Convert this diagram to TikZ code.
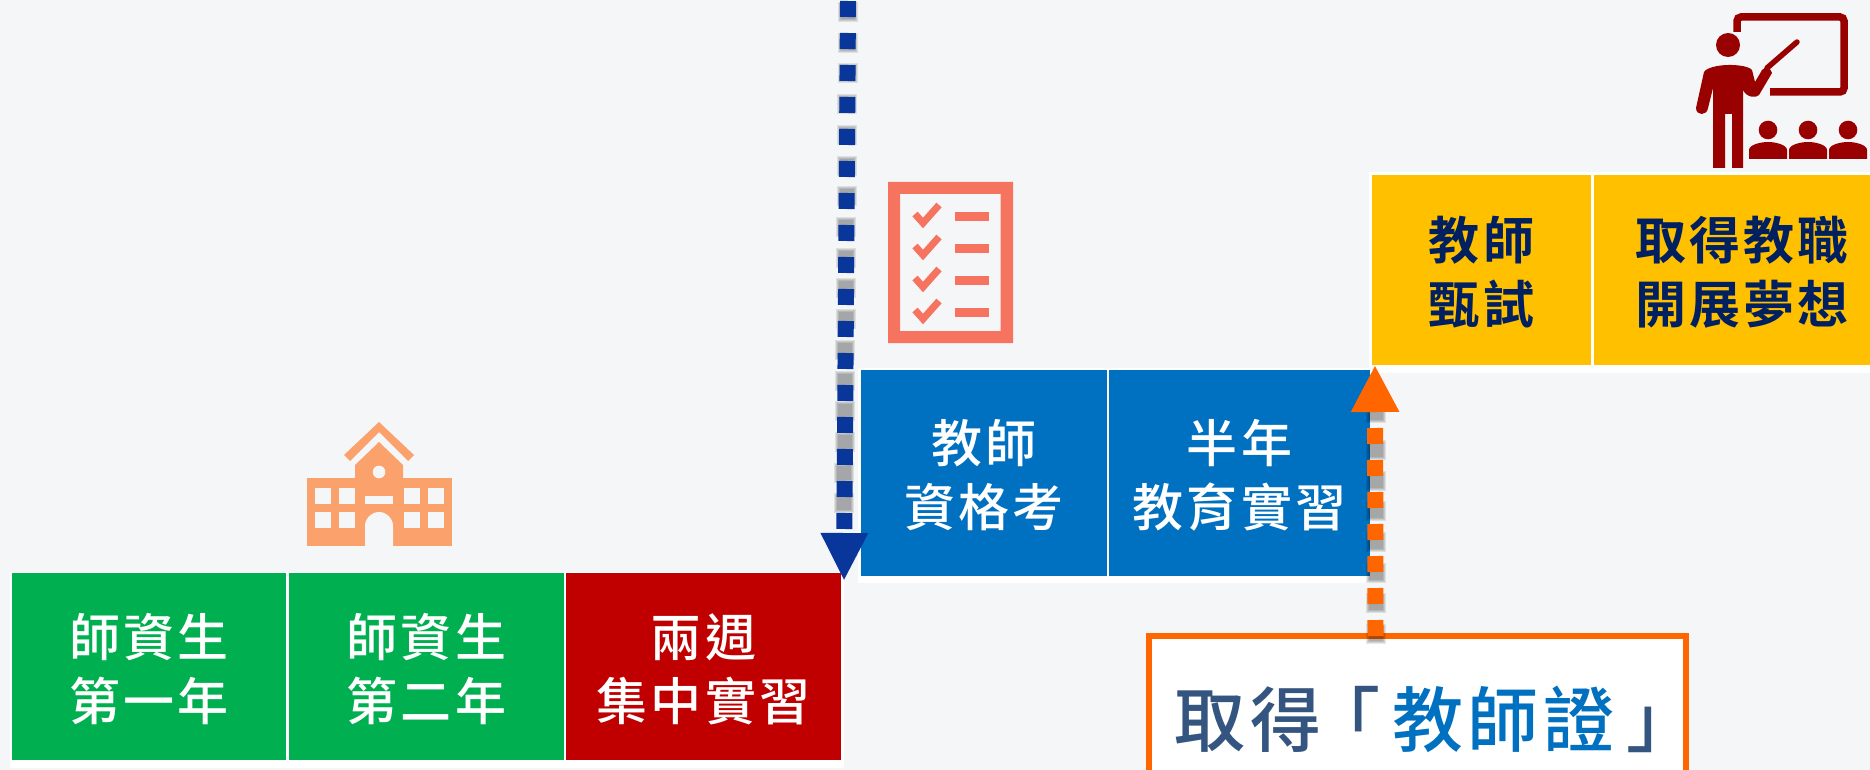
\documentclass[tikz,border=0pt]{standalone}
\usepackage{fontspec}
\usetikzlibrary{arrows.meta}
\newfontfamily\cjkw[LetterSpace=6]{Noto Sans CJK TC Medium}
\newfontfamily\cjkb[LetterSpace=6]{Noto Sans CJK TC Bold}
\newfontfamily\cjkc[LetterSpace=6.5]{Noto Sans CJK TC Medium}
\definecolor{bg}{RGB}{245,246,248}
\definecolor{cgreen}{RGB}{0,176,80}
\definecolor{cred}{RGB}{192,0,0}
\definecolor{cblue}{RGB}{0,112,192}
\definecolor{cyellow}{RGB}{255,192,0}
\definecolor{cnavy}{RGB}{0,32,96}
\definecolor{corange}{RGB}{255,102,0}
\definecolor{cdark}{RGB}{8,54,154}
\definecolor{cslate}{RGB}{51,85,128}
\definecolor{cschool}{RGB}{251,161,108}
\definecolor{ccheck}{RGB}{245,115,95}
\definecolor{cteach}{RGB}{153,0,0}
\tikzset{
  stepbox/.style={inner sep=0pt,outer sep=0pt,align=center,font=\fontsize{51pt}{64pt}\selectfont\cjkw,text=white,text depth=0pt,execute at begin node={\vspace*{3pt}}},
  navybox/.style={stepbox,fill=cyellow,text=cnavy,font=\fontsize{51pt}{64pt}\selectfont\cjkb},
  band/.style={fill=white},
  dashline/.style={line width=16pt,dash pattern=on 16pt off 16pt},
  shade1/.style={fill=black,opacity=0.09}
}
\newcommand{\softsq}[2]{%
  \fill[shade1] (#1-10,#2-2) rectangle (#1+10,#2+18);
  \fill[shade1] (#1-9,#2-1) rectangle (#1+9,#2+17);
  \fill[shade1] (#1-8,#2) rectangle (#1+8,#2+16);
  \fill[shade1] (#1-7,#2+1) rectangle (#1+7,#2+15);}
\begin{document}
\begin{tikzpicture}[x=1pt,y=-1pt]
\useasboundingbox (0,0) rectangle (1870,770);
\fill[bg] (0,0) rectangle (1870,770);
% white bands
\fill[band] (10,572) rectangle (844,768);
\fill[band] (858,368) rectangle (1369,583);
\fill[band] (1369,172) rectangle (1870,373);
% boxes
\node[stepbox,fill=cgreen,minimum width=274.5pt,minimum height=186.7pt] (g1) at (148.75,666.65) {師資生\\第一年};
\node[stepbox,fill=cgreen,minimum width=275pt,minimum height=186.7pt] (g2) at (426.5,666.65) {師資生\\第二年};
\node[stepbox,fill=cred,minimum width=275pt,minimum height=186.7pt] (r1) at (703.5,666.65) {兩週\\集中實習};
\node[stepbox,fill=cblue,minimum width=246pt,minimum height=206pt] (b1) at (984,473) {教師\\資格考};
\node[stepbox,fill=cblue,minimum width=261pt,minimum height=206pt] (b2) at (1239.5,473) {半年\\教育實習};
\node[navybox,minimum width=219pt,minimum height=190pt] (y1) at (1481.5,270) {教師\\甄試};
\node[navybox,minimum width=296pt,minimum height=190pt] (y2) at (1742,270) {取得教職\\開展夢想};
\node[draw=corange,line width=6pt,fill=white,inner sep=0pt,outer sep=0pt,minimum width=537pt,minimum height=160pt,anchor=north west] (cert) at (1149,636) {};
\node[inner sep=0pt,outer sep=0pt,font=\fontsize{71pt}{71pt}\selectfont\cjkc,text=cslate,anchor=base] (certtext) at (1430,746) {取得\kern-12pt「\kern12pt\textcolor{cblue}{教師證}\kern12pt」\kern-12pt};
% school
\fill[cschool] (307,478) rectangle (452,546);
\fill[cschool] (355,478) -- (355,465) -- (379,442) -- (403,465) -- (403,478) -- cycle;
\fill[cschool] (344,455) -- (379,422) -- (414,455) -- (408,461) -- (379,432) -- (350,461) -- cycle;
\fill[bg] (379,472) circle (6.3);
\foreach \xa in {315,339,404,428}{
  \foreach \ya in {488,512}{
    \fill[bg] (\xa,\ya) rectangle (\xa+16,\ya+16);
  }
}
\fill[bg] (365,496) rectangle (393,504);
\fill[bg] (365,546) -- (365,526) arc[start angle=180,end angle=360,radius=14] -- (393,546) -- cycle;
% checklist
\fill[ccheck,even odd rule] (888,182) rectangle (1013,343) (900,194) rectangle (1000.5,331);
\foreach \d in {0,32,64,96}{
  \draw[ccheck,line width=7pt] (915,214+\d) -- (923,223+\d) -- (939,205+\d);
  \fill[ccheck] (954.6,212+\d) rectangle (988.7,221+\d);
}
% teacher
\draw[cteach,line width=7.5pt,rounded corners=4pt] (1737,32) -- (1737,17) -- (1844,17) -- (1844,92) -- (1770,92);
\fill[cteach] (1728,45) circle (12);
\fill[cteach] (1713,168) -- (1713,88) -- (1708,108) .. controls (1707,116) and (1696,116) .. (1696,108)
  -- (1704,72) .. controls (1710,63) and (1746,63) .. (1752,70) -- (1755,82) -- (1762,70) .. controls (1765,66) and (1771,68) .. (1772,73)
  -- (1759,95) .. controls (1756,98) and (1747,98) .. (1743,90) -- (1743,168) -- (1732,168) -- (1732,114) -- (1725,114) -- (1725,168) -- cycle;
\draw[cteach,line width=5.5pt,line cap=round] (1767,68) -- (1797,42);
\foreach \hx in {1768,1808,1848}{
  \fill[cteach] (\hx,130) circle (9.3);
  \fill[cteach] (\hx-19,159) -- (\hx-19,150) .. controls (\hx-19,145) and (\hx-8,142) .. (\hx,142) .. controls (\hx+8,142) and (\hx+19,145) .. (\hx+19,150) -- (\hx+19,159) -- cycle;
}
% soft shadows
\foreach \i in {0,...,16}{
  \pgfmathsetmacro{\yy}{1+32*\i}
  \pgfmathsetmacro{\xx}{848-4*\yy/522}
  \pgfmathsetmacro{\dy}{3-0.04*\yy}
  \pgfmathsetmacro{\sy}{\yy+\dy}
  \softsq{\xx}{\sy}
}
\foreach \i in {0,...,6}{
  \pgfmathsetmacro{\yy}{428+32*\i}
  \pgfmathsetmacro{\dy}{14-8*\i/6}
  \pgfmathsetmacro{\sy}{\yy+\dy}
  \softsq{1376}{\sy}
}
\softsq{1376}{405}
% connectors
\coordinate (bstart) at (848,1);
\coordinate (btip) at (844,581);
\coordinate (ostart) at (1375.5,636);
\coordinate (otip) at (1375,365);
\draw[cdark,dashline,-{Triangle[length=48pt,width=44pt]}] (bstart) -- (btip);
\draw[corange,dashline,-{Triangle[length=47pt,width=45pt]}] (ostart) -- (otip);
\end{tikzpicture}
\end{document}
